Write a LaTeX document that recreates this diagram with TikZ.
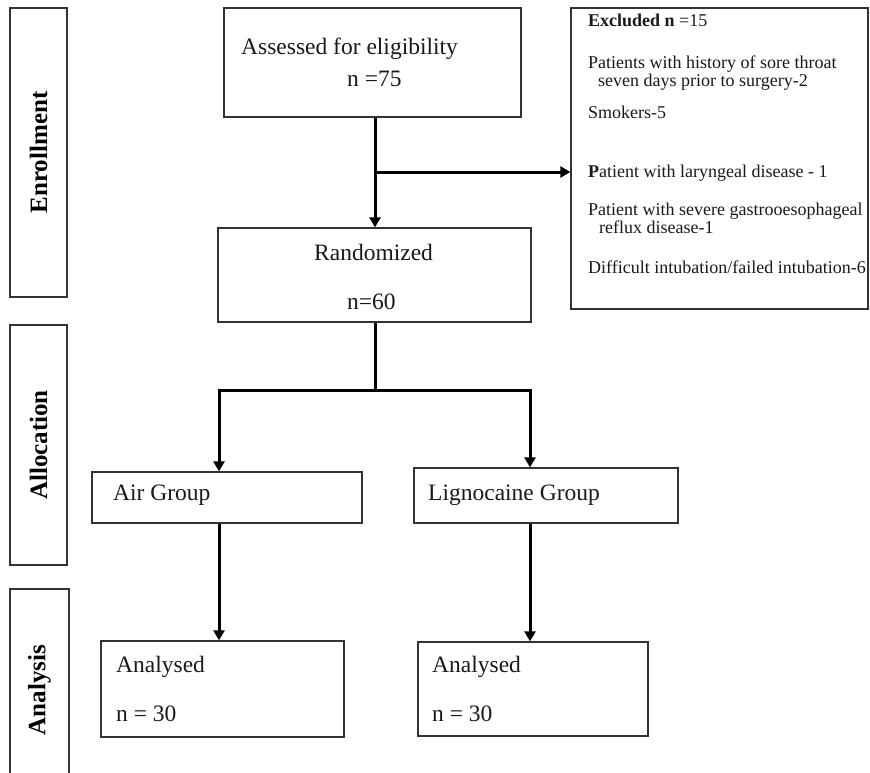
\documentclass[tikz,border=0pt]{standalone}
\usepackage{fontspec}
\setmainfont{Liberation Serif}
\usetikzlibrary{arrows.meta}
\begin{document}
\begin{tikzpicture}[x=1pt,y=-1pt,
  box/.style={draw=black!80, line width=1.3pt, inner sep=0pt},
  side/.style={draw=black!80, line width=1.8pt, inner sep=0pt},
  lbl/.style={anchor=base west, inner sep=0pt, text=black!90, font=\fontsize{23.5}{27}\selectfont},
  exl/.style={anchor=base west, inner sep=0pt, text=black!90, font=\fontsize{18}{21}\selectfont},
  sidelbl/.style={rotate=90, inner sep=0pt, font=\fontsize{25}{30}\selectfont\bfseries},
  conn/.style={line width=3pt},
  arr/.style={conn, -{Triangle[length=10pt,width=11pt]}}
]
\useasboundingbox (0,0) rectangle (870,773);
% side boxes
\node (enr) [side, minimum width=57pt, minimum height=289pt] at (38.5,152.5) {};
\node (alloc) [side, minimum width=57pt, minimum height=240pt] at (38.5,445) {};
\node (anal) [side, minimum width=59pt, minimum height=201pt] at (39.5,689.5) {};
\node (enrl) [sidelbl] at (38.5,152.5) {Enrollment};
\node (allocl) [sidelbl] at (38.5,445) {Allocation};
\node (anall) [sidelbl] at (39.5,690) {Analysis};
% main boxes
\node (assess) [box, minimum width=297pt, minimum height=109pt] at (372.5,62.5) {};
\node (rand) [box, minimum width=313pt, minimum height=94pt] at (374.5,275) {};
\node (excl) [box, minimum width=297pt, minimum height=301pt] at (719.5,158.5) {};
\node (air) [box, minimum width=270pt, minimum height=51pt] at (227,497.5) {};
\node (lig) [box, minimum width=264pt, minimum height=55pt] at (546,495.5) {};
\node (an1) [box, minimum width=243pt, minimum height=96pt] at (222.5,689) {};
\node (an2) [box, minimum width=230pt, minimum height=94pt] at (533,689) {};
% texts
\node (t1) [lbl] at (241,55) {Assessed for eligibility};
\node (t2) [lbl] at (347,87) {n =75};
\node (t3) [lbl] at (314,260) {Randomized};
\node (t4) [lbl] at (347,309) {n=60};
\node (t5) [lbl] at (113,500) {Air Group};
\node (t6) [lbl] at (428,500) {Lignocaine Group};
\node (t7) [lbl] at (116,672) {Analysed};
\node (t8) [lbl] at (116,721) {n = 30};
\node (t9) [lbl] at (432,672) {Analysed};
\node (t10) [lbl] at (432,721) {n = 30};
\node (e1) [exl] at (588,27) {\textbf{Excluded n} =15};
\node (e2) [exl] at (588,69) {Patients with history of sore throat};
\node (e3) [exl] at (598,87) {seven days prior to surgery-2};
\node (e4) [exl] at (588,119) {Smokers-5};
\node (e5) [exl] at (588,178) {\textbf{P}atient with laryngeal disease - 1};
\node (e6) [exl] at (588,215) {Patient with severe gastrooesophageal};
\node (e7) [exl] at (599,233) {reflux disease-1};
\node (e8) [exl] at (588,273) {Difficult intubation/failed intubation-6};
% connectors
\coordinate (c1) at (375,172);
\coordinate (br) at (375,390);
\coordinate (bl) at (219,390);
\coordinate (brr) at (530,390);
\draw[arr] (assess.south -| c1) -- (rand.north -| c1);
\draw[arr] (c1) -- (excl.west |- c1);
\draw[conn] (rand.south -| br) -- (br);
\draw[arr] (br) -- (bl) -- (air.north -| bl);
\draw[arr] (br) -- (brr) -- (lig.north -| brr);
\draw[arr] (air.south -| bl) -- (an1.north -| bl);
\draw[arr] (lig.south -| brr) -- (an2.north -| brr);
\end{tikzpicture}
\end{document}
